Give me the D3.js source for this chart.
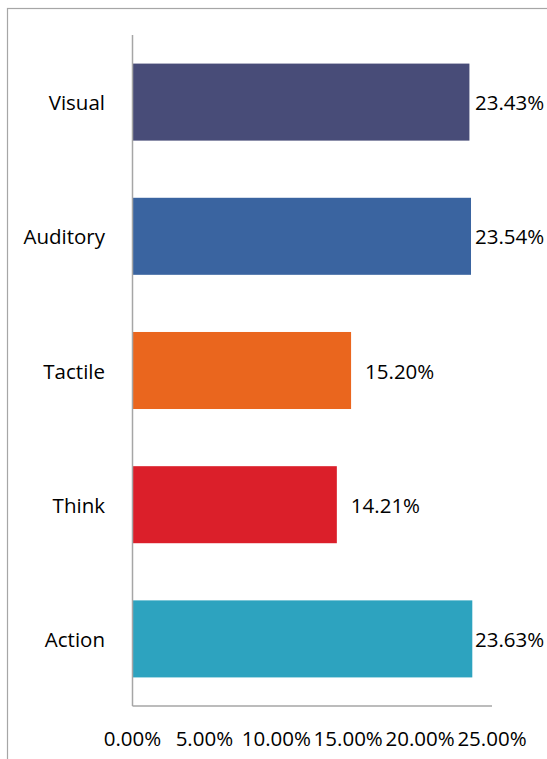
<!DOCTYPE html>
<html>
<head>
<meta charset="utf-8">
<script src="https://cdn.jsdelivr.net/npm/d3@7"></script>
<style>
html,body{margin:0;padding:0;background:#fff;overflow:hidden;}
svg{display:block;}
text{font-family:"Open Sans",sans-serif;fill:#000;}
</style>
</head>
<body>
<svg id="chart" width="547" height="759"></svg>
<script>
const categories = ["Visual", "Auditory", "Tactile", "Think", "Action"];
const values = [23.43, 23.54, 15.20, 14.21, 23.63];
const barColors = ["#484C78", "#3A64A0", "#EA661E", "#DB1F2A", "#2DA3BF"];
const tickValues = [0, 5, 10, 15, 20, 25];

const svg = d3.select("#chart");

// chart border (extends past the viewport)
svg.append("rect")
  .attr("x", 7.5).attr("y", 8.5)
  .attr("width", 700).attr("height", 900)
  .attr("fill", "none").attr("stroke", "#a6a6a6").attr("stroke-width", 1.2);

const x = d3.scaleLinear().domain([0, 25]).range([132.5, 492]);
const y = d3.scaleBand().domain(categories).range([35, 706]).paddingInner(0.426).paddingOuter(0.213);

// bars
svg.selectAll("rect.bar").data(categories).join("rect")
  .attr("class", "bar")
  .attr("x", x(0))
  .attr("y", d => y(d))
  .attr("width", (d, i) => x(values[i]) - x(0))
  .attr("height", y.bandwidth())
  .attr("fill", (d, i) => barColors[i]);

// axes lines
svg.append("line").attr("x1", x(0)).attr("x2", x(0)).attr("y1", 35).attr("y2", 706)
  .attr("stroke", "#a6a6a6").attr("stroke-width", 1.5);
svg.append("line").attr("x1", x(0)).attr("x2", x(25)).attr("y1", 706).attr("y2", 706)
  .attr("stroke", "#a6a6a6").attr("stroke-width", 1.5);

const fs = 20.5;

// y labels
svg.selectAll("text.ylab").data(categories).join("text")
  .attr("class", "ylab")
  .attr("x", 105)
  .attr("y", d => y(d) + y.bandwidth() / 2)
  .attr("text-anchor", "end")
  .attr("dominant-baseline", "central")
  .attr("font-size", fs)
  .text(d => d);

// x tick labels
svg.selectAll("text.xlab").data(tickValues).join("text")
  .attr("class", "xlab")
  .attr("x", d => x(d))
  .attr("y", 746)
  .attr("text-anchor", "middle")
  .attr("font-size", fs)
  .text(d => d.toFixed(2) + "%");

// value labels
svg.selectAll("text.vlab").data(categories).join("text")
  .attr("class", "vlab")
  .attr("x", (d, i) => Math.min(x(values[i]) + 14, 475))
  .attr("y", (d, i) => y(d) + y.bandwidth() / 2)
  .attr("text-anchor", "start")
  .attr("dominant-baseline", "central")
  .attr("font-size", fs)
  .text((d, i) => values[i].toFixed(2) + "%");
</script>
</body>
</html>
